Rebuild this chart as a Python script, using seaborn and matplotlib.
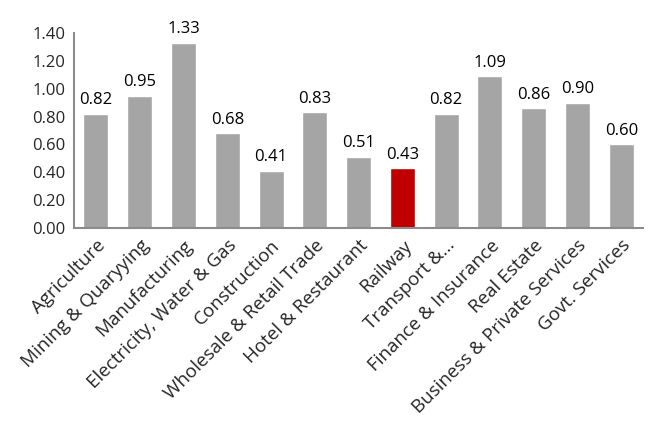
import matplotlib
matplotlib.use("Agg")
import matplotlib.pyplot as plt
import seaborn as sns
import pandas as pd

sectors = [
    "Agriculture", "Mining & Quaryying", "Manufacturing",
    "Electricity, Water & Gas", "Construction", "Wholesale & Retail Trade",
    "Hotel & Restaurant", "Railway", "Transport &...",
    "Finance & Insurance", "Real Estate", "Business & Private Services",
    "Govt. Services",
]
values = [0.82, 0.95, 1.33, 0.68, 0.41, 0.83, 0.51, 0.43, 0.82, 1.09, 0.86, 0.90, 0.60]
highlight = "Railway"
y_ticks = [0.0, 0.2, 0.4, 0.6, 0.8, 1.0, 1.2, 1.4]

sns.set_theme(style="white")
plt.rcParams["font.family"] = ["Open Sans", "DejaVu Sans"]

df = pd.DataFrame({"sector": sectors, "value": values})
palette = {s: ("#C00000" if s == highlight else "#A5A5A5") for s in sectors}

fig = plt.figure(figsize=(6.55, 4.21), dpi=100)
ax = fig.add_axes([0.113, 0.4584, 0.869, 0.4632])

sns.barplot(data=df, x="sector", y="value", hue="sector", palette=palette,
            order=sectors, width=0.57, legend=False, ax=ax, saturation=1)

for i, v in enumerate(values):
    ax.annotate(f"{v:.2f}", (i, v), xytext=(0, 4), textcoords="offset points",
                ha="center", va="bottom", fontsize=12, color="#000000")

ax.set_ylim(0, 1.4)
ax.set_xlim(-0.5, len(sectors) - 0.5)
ax.set_yticks(y_ticks)
ax.set_yticklabels([f"{t:.2f}" for t in y_ticks], fontsize=12)
ax.set_xticks(range(len(sectors)))
ax.set_xticklabels(sectors, rotation=45, ha="right", rotation_mode="anchor",
                   fontsize=13.5)
ax.tick_params(axis="both", length=0, pad=6)
ax.set_xlabel("")
ax.set_ylabel("")

for side in ("top", "right"):
    ax.spines[side].set_visible(False)
for side in ("left", "bottom"):
    ax.spines[side].set_color("#8C8C8C")
    ax.spines[side].set_linewidth(1.5)

fig.savefig("out.png", dpi=100)
